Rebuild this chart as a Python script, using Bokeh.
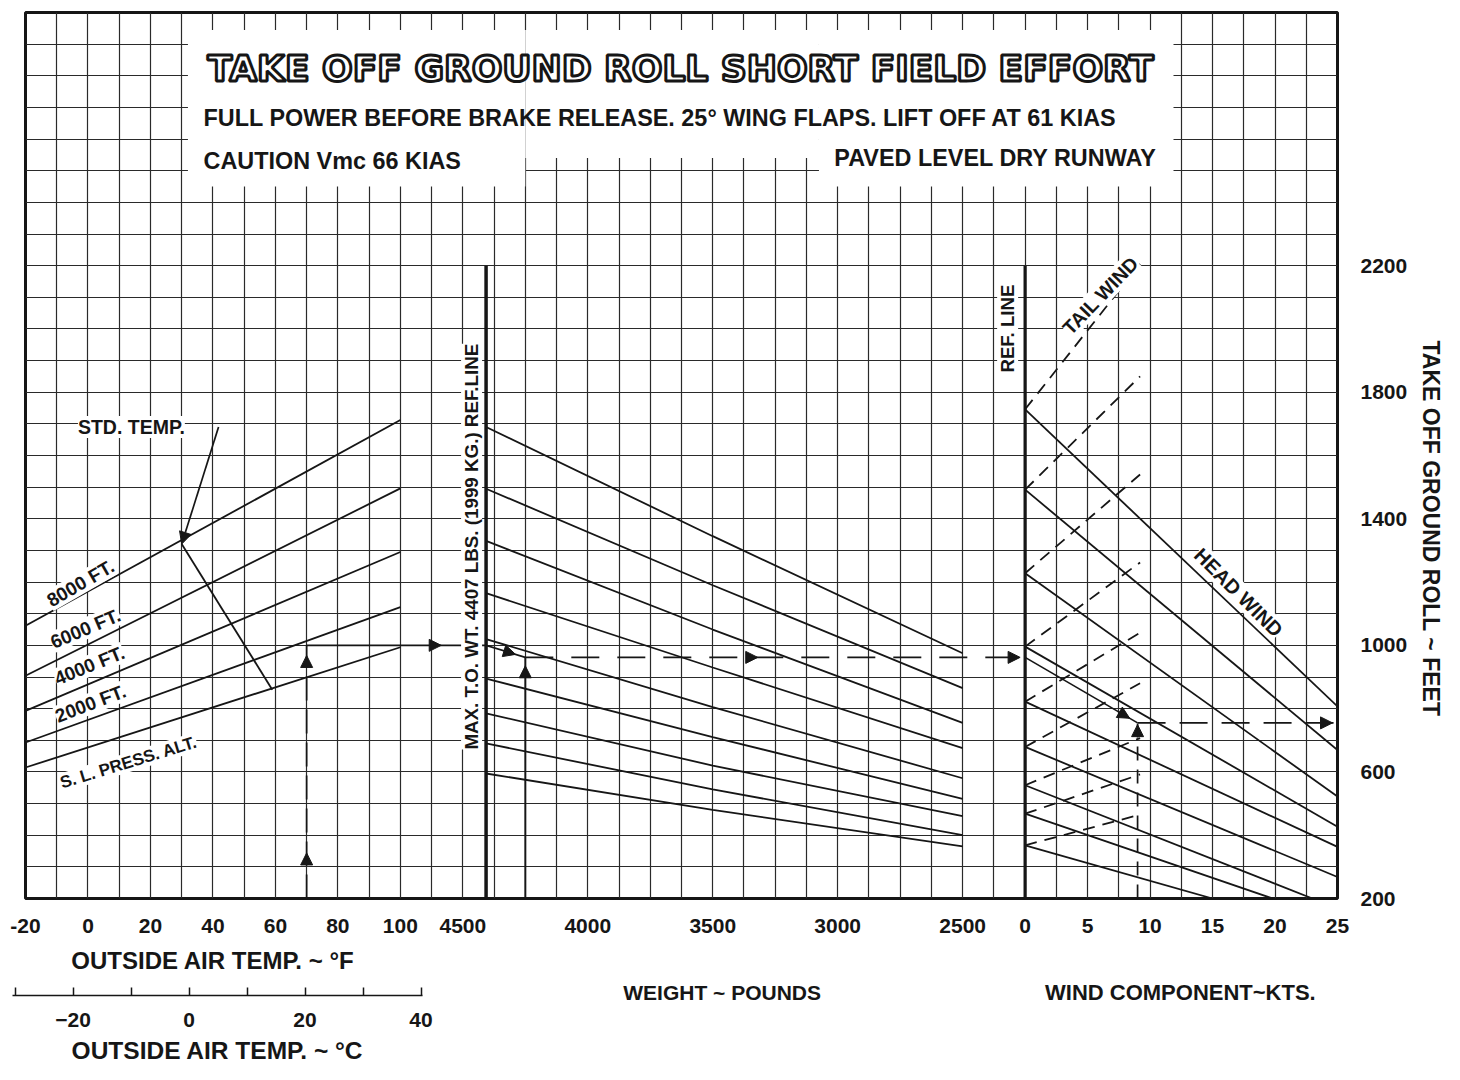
from bokeh.plotting import figure
from bokeh.layouts import column, row
from bokeh.models import Range1d, LinearAxis, FixedTicker, Label, Arrow, NormalHead, Title
from bokeh.embed import file_html
from bokeh.resources import INLINE

# ---------------- values ----------------
temp_span_f = [-20, 100]
alt_names = ["S. L. PRESS. ALT.", "2000 FT.", "4000 FT.", "6000 FT.", "8000 FT."]
alt_roll_at_m20f = [614, 693, 793, 904, 1062]
alt_roll_at_100f = [994, 1121, 1295, 1496, 1712]
std_temp_f = [30, 59]
std_temp_roll = [1320, 860]

max_weight = 4407
ref_line_top = 2200
weight_stations = [4407, 3500, 2500]
weight_guides = [
    [1690, 1345, 975],
    [1495, 1190, 865],
    [1330, 1050, 755],
    [1165, 930, 675],
    [1020, 805, 580],
    [895, 710, 515],
    [785, 620, 460],
    [690, 545, 400],
    [595, 480, 365],
]

wind_start_roll = [1746, 1492, 1228, 996, 822, 679, 558, 468, 368]
head_end_kts = [25, 25, 25, 25, 25, 25, 23.0, 19.8, 15.0]
head_end_roll = [807, 669, 522, 427, 363, 268, 200, 200, 200]
tail_end_kts = 9.2
tail_end_roll = [2205, 1850, 1540, 1262, 1040, 880, 707, 592, 465]

ex_temp_f = 70
ex_roll_temp = 1000
ex_weight = 4250
ex_roll_weight = 962
ex_wind = 9
ex_roll_wind = 755

temp_ticks_f = [-20, 0, 20, 40, 60, 80, 100]
weight_ticks = [4500, 4000, 3500, 3000, 2500]
wind_ticks = [0, 5, 10, 15, 20, 25]
temp_ticks_c = [-30, -20, -10, 0, 10, 20, 30, 40]
temp_labels_c = ["", "\u221220", "", "0", "", "20", "", "40"]
roll_ticks = [200, 600, 1000, 1400, 1800, 2200]

# ---------------- layout: one background grid of cells ----------------
SANS = "Liberation Sans"
WIDE = "DejaVu Sans"
INK = "#161616"
N_CELLS = 42
F_AT0, F_PER = -20, 10
W_CELL, W_AT, W_PER = 14, 4500, 125
K_CELL, K_PER = 32, 2.5
PX_CELL = 1312 / 42          # pixels per grid cell
PX_FT = 886 / 2800           # pixels per foot of ground roll
C_ZERO_PX, PX_C = 176.5, 5.8  # 0 C position within the lower strip, px per deg C


def cell_F(f):
    return (f - F_AT0) / F_PER


def cell_W(w):
    return W_CELL + (W_AT - w) / W_PER


def cell_K(k):
    return K_CELL + k / K_PER


def F_of(c):
    return F_AT0 + c * F_PER


def W_of(c):
    return W_AT - (c - W_CELL) * W_PER


def K_of(c):
    return (c - K_CELL) * K_PER


p = figure(frame_width=1312, frame_height=886,
           x_range=Range1d(0, N_CELLS), y_range=Range1d(200, 3000),
           y_axis_location="right", output_backend="svg", toolbar_location=None,
           min_border_left=25, min_border_top=12, min_border_right=111,
           min_border_bottom=40, background_fill_color="white",
           border_fill_color="white")
p.extra_x_ranges = {
    "F": Range1d(F_of(0), F_of(N_CELLS)),
    "W": Range1d(W_of(0), W_of(N_CELLS)),
    "K": Range1d(K_of(0), K_of(N_CELLS)),
}
p.outline_line_color = INK
p.outline_line_width = 3

# grid
p.xgrid.ticker = FixedTicker(ticks=list(range(0, N_CELLS + 1)))
p.ygrid.ticker = FixedTicker(ticks=list(range(200, 3001, 100)))
for g in (p.xgrid, p.ygrid):
    g.grid_line_color = "#2a2a2a"
    g.grid_line_width = 1.2
    g.grid_line_alpha = 1.0

# bottom axis: three scales on one row
main_ticks = ([cell_F(t) for t in temp_ticks_f] + [cell_W(t) for t in weight_ticks]
              + [cell_K(t) for t in wind_ticks])
main_labels = ([str(t) for t in temp_ticks_f] + [str(t) for t in weight_ticks]
               + [str(t) for t in wind_ticks])
ax = p.xaxis[0]
ax.ticker = FixedTicker(ticks=main_ticks)
ax.major_label_overrides = dict(zip(main_ticks, main_labels))
ax.axis_line_color = None
ax.major_tick_line_color = None
ax.minor_tick_line_color = None
ax.major_label_standoff = 14
ax.major_label_text_font = SANS
ax.major_label_text_font_style = "bold"
ax.major_label_text_font_size = "21px"
ax.major_label_text_color = INK

ya = p.yaxis[0]
ya.ticker = FixedTicker(ticks=roll_ticks)
ya.axis_line_color = None
ya.major_tick_line_color = None
ya.minor_tick_line_color = None
ya.major_label_standoff = 17
ya.major_label_text_font = SANS
ya.major_label_text_font_style = "bold"
ya.major_label_text_font_size = "21px"
ya.major_label_text_color = INK

p.add_layout(Title(text="TAKE OFF GROUND ROLL ~ FEET", align="left", offset=328,
                   standoff=14, text_font=SANS, text_font_size="23px",
                   text_font_style="bold", text_color=INK), "right")

# title box mask over the grid
p.quad(left=[5.2, 16.0, 25.4], right=[16.0, 25.4, 36.75],
       bottom=[2450, 2540, 2450], top=[2945, 2945, 2945],
       fill_color="white", line_color=None)

LW = 1.8
# temperature panel
p.multi_line(xs=[temp_span_f] * len(alt_names),
             ys=[[a, b] for a, b in zip(alt_roll_at_m20f, alt_roll_at_100f)],
             x_range_name="F", line_color=INK, line_width=LW)
p.line(std_temp_f, std_temp_roll, x_range_name="F", line_color=INK, line_width=LW)

# weight panel
p.multi_line(xs=[weight_stations] * len(weight_guides), ys=weight_guides,
             x_range_name="W", line_color=INK, line_width=LW)
p.segment(x0=[max_weight], y0=[200], x1=[max_weight], y1=[ref_line_top],
          x_range_name="W", line_color=INK, line_width=3.5)

# wind panel
p.multi_line(xs=[[0, k] for k in head_end_kts],
             ys=[[a, b] for a, b in zip(wind_start_roll, head_end_roll)],
             x_range_name="K", line_color=INK, line_width=LW)
p.multi_line(xs=[[0, tail_end_kts]] * len(wind_start_roll),
             ys=[[a, b] for a, b in zip(wind_start_roll, tail_end_roll)],
             x_range_name="K", line_color=INK, line_width=LW, line_dash="12 8")
p.segment(x0=[0], y0=[200], x1=[0], y1=[ref_line_top],
          x_range_name="K", line_color=INK, line_width=3.2)

# worked example
f_ref = F_of(cell_W(max_weight))
w_ref = W_of(cell_K(0))
p.line([ex_temp_f, ex_temp_f], [200, ex_roll_temp], x_range_name="F",
       line_color=INK, line_width=1.7, line_dash="24 9")
p.line([ex_temp_f, f_ref], [ex_roll_temp, ex_roll_temp], x_range_name="F",
       line_color=INK, line_width=1.7)
p.line([max_weight, ex_weight], [ex_roll_temp, ex_roll_weight], x_range_name="W",
       line_color=INK, line_width=1.7)
p.line([ex_weight, ex_weight], [200, ex_roll_weight], x_range_name="W",
       line_color=INK, line_width=1.9)
p.line([ex_weight, w_ref], [ex_roll_weight, ex_roll_weight], x_range_name="W",
       line_color=INK, line_width=1.7, line_dash="28 18")
p.line([0, ex_wind], [ex_roll_weight, ex_roll_wind], x_range_name="K",
       line_color=INK, line_width=1.7)
p.line([ex_wind, ex_wind], [200, ex_roll_wind], x_range_name="K",
       line_color=INK, line_width=1.7, line_dash="14 9")
p.line([ex_wind, 25], [ex_roll_wind, ex_roll_wind], x_range_name="K",
       line_color=INK, line_width=1.7, line_dash="28 14")


def head(x0, y0, x1, y1, frac, rng):
    xs = x0 + (frac - 0.03) * (x1 - x0)
    ys = y0 + (frac - 0.03) * (y1 - y0)
    xt = x0 + frac * (x1 - x0)
    yt = y0 + frac * (y1 - y0)
    p.add_layout(Arrow(end=NormalHead(size=12, fill_color=INK, line_color=INK, line_width=1),
                       x_start=xs, y_start=ys, x_end=xt, y_end=yt, line_alpha=0,
                       x_range_name=rng))


head(ex_temp_f, 200, ex_temp_f, ex_roll_temp, 0.18, "F")
head(ex_temp_f, 200, ex_temp_f, ex_roll_temp, 0.96, "F")
head(ex_temp_f, ex_roll_temp, f_ref, ex_roll_temp, 0.75, "F")
head(max_weight, ex_roll_temp, ex_weight, ex_roll_weight, 0.75, "W")
head(ex_weight, 200, ex_weight, ex_roll_weight, 0.965, "W")
head(ex_weight, ex_roll_weight, w_ref, ex_roll_weight, 0.465, "W")
head(ex_weight, ex_roll_weight, w_ref, ex_roll_weight, 0.99, "W")
head(0, ex_roll_weight, ex_wind, ex_roll_wind, 0.93, "K")
head(ex_wind, 200, ex_wind, ex_roll_wind, 0.99, "K")
head(ex_wind, ex_roll_wind, 25, ex_roll_wind, 0.975, "K")

# standard temperature pointer
p.add_layout(Arrow(end=NormalHead(size=12, fill_color=INK, line_color=INK, line_width=1),
                   x_start=41.8, y_start=1690, x_end=std_temp_f[0], y_end=std_temp_roll[0],
                   line_color=INK, line_width=1.7, x_range_name="F"))


def lab(fig, text, x, y, size, angle=0, font=SANS, align="center", bg="white",
        rng="default", color=INK, **kw):
    fig.add_layout(Label(x=x, y=y, text=text, text_font=font, text_font_size=f"{size}px",
                         text_font_style="bold", text_color=color, text_align=align,
                         text_baseline="middle", angle=angle, angle_units="deg",
                         x_range_name=rng, background_fill_color=bg, **kw))


# titles
lab(p, "TAKE OFF GROUND ROLL SHORT FIELD EFFORT", 20.97, 2823, 36, font=WIDE,
    color="white", bg=None, text_outline_color=INK)
lab(p, "FULL POWER BEFORE BRAKE RELEASE. 25\u00b0 WING FLAPS. LIFT OFF AT 61 KIAS",
    5.70, 2668, 23.4, align="left", bg=None)
lab(p, "CAUTION Vmc 66 KIAS", 5.70, 2532, 23.4, align="left", bg=None)
lab(p, "PAVED LEVEL DRY RUNWAY", 36.21, 2541, 23.4, align="right", bg=None)

# curve labels
alt_label_f = [13.0, 0.8, 0.5, -0.8, -2.4]
alt_label_roll = [630, 816, 936, 1053, 1196]
alt_label_angle = [17, 21, 22, 23, 30]
alt_label_size = [17, 19, 19, 19, 19]
for name, fx, fy, an, sz in zip(alt_names, alt_label_f, alt_label_roll, alt_label_angle,
                                alt_label_size):
    lab(p, name, fx, fy, sz, angle=an, rng="F")
lab(p, "STD. TEMP.", 13.9, 1690, 19.5, rng="F")
lab(p, "MAX. T.O. WT. 4407 LBS. (1999 KG.) REF.LINE", 14.28, 1312, 18.8, angle=90)
lab(p, "REF. LINE", 31.44, 2001, 18.6, angle=90)
lab(p, "TAIL WIND", 34.41, 2106, 19.5, angle=46)
lab(p, "HEAD WIND", 38.83, 1167, 20, angle=-45)

# ---------------- lower strip: Celsius scale and axis titles ----------------
STRIP_H = 134
LEFT_W, LEFT_FRAME_X0, LEFT_FRAME_W = 440, 12, 410
TOP_FRAME_H = 57
ft_top = 200 - 40 / PX_FT           # roll-feet value at the strip's top edge
ft_axis = ft_top - TOP_FRAME_H / PX_FT
ft_bottom = ft_top - STRIP_H / PX_FT

q1 = figure(width=LEFT_W, height=STRIP_H, frame_width=LEFT_FRAME_W, frame_height=TOP_FRAME_H,
            x_range=Range1d(-C_ZERO_PX / PX_C, (LEFT_FRAME_W - C_ZERO_PX) / PX_C),
            y_range=Range1d(ft_axis, ft_top), x_axis_type=None, y_axis_type=None,
            output_backend="svg", toolbar_location=None, min_border_left=LEFT_FRAME_X0,
            min_border_right=LEFT_W - LEFT_FRAME_X0 - LEFT_FRAME_W, min_border_top=0,
            min_border_bottom=STRIP_H - TOP_FRAME_H, outline_line_color=None,
            background_fill_color="white", border_fill_color="white")
q1.grid.visible = False
q1.extra_x_ranges = {"F": Range1d(F_of((LEFT_FRAME_X0 - 25) / PX_CELL),
                                  F_of((LEFT_FRAME_X0 + LEFT_FRAME_W - 25) / PX_CELL))}
cax = LinearAxis(ticker=FixedTicker(ticks=temp_ticks_c),
                 major_label_overrides=dict(zip(temp_ticks_c, temp_labels_c)),
                 axis_line_color=INK, axis_line_width=1.5,
                 major_tick_line_color=INK, major_tick_line_width=1.5,
                 major_tick_in=8, major_tick_out=0, minor_tick_line_color=None,
                 major_label_standoff=17, major_label_text_font=SANS,
                 major_label_text_font_style="bold", major_label_text_font_size="21px",
                 major_label_text_color=INK,
                 axis_label="OUTSIDE AIR TEMP. ~ \u00b0C", axis_label_standoff=7,
                 axis_label_text_font=SANS, axis_label_text_font_style="bold",
                 axis_label_text_font_size="24.5px", axis_label_text_color=INK)
q1.add_layout(cax, "below")
lab(q1, "OUTSIDE AIR TEMP. ~ \u00b0F", 40.0, 4, 24, bg=None, rng="F")

RIGHT_W = 1448 - LEFT_W
q2 = figure(width=RIGHT_W, height=STRIP_H, frame_width=RIGHT_W, frame_height=STRIP_H,
            x_range=Range1d((LEFT_W - 25) / PX_CELL, (1448 - 25) / PX_CELL),
            y_range=Range1d(ft_bottom, ft_top), x_axis_type=None, y_axis_type=None,
            output_backend="svg", toolbar_location=None, min_border=0,
            outline_line_color=None, background_fill_color="white",
            border_fill_color="white")
q2.grid.visible = False
lab(q2, "WEIGHT ~ POUNDS", 22.30, -97, 21, bg=None)
lab(q2, "WIND COMPONENT~KTS.", 36.97, -97, 22, bg=None)

layout = column(p, row(q1, q2))
open("out.html", "w").write(file_html(layout, INLINE))
